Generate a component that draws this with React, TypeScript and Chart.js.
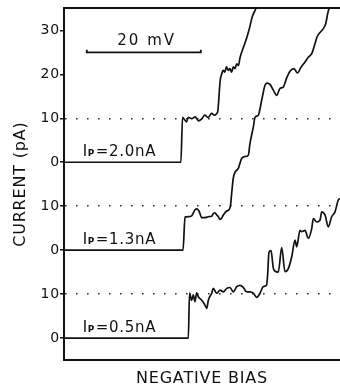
import React, { useEffect, useRef } from 'react';
import { Chart, registerables } from 'chart.js';

Chart.register(...registerables);

// Y axis: one stacked axis, three curves offset by 20 pA each
const Y_TICK_VALUES = [0, 10, 20, 30, 40, 50, 60, 70];
const Y_TICK_LABELS = ['0', '10', '0', '10', '0', '10', '20', '30'];
const DOTTED_LEVELS = [10, 30, 50];
const Y_MIN = -5;
const Y_MAX = 75;
const X_MIN = 0;
const X_MAX = 48.42; // mV

const CURVE_NAMES = ['2.0nA', '1.3nA', '0.5nA'];
const CURVE_OFFSETS = [40, 20, 0];
const LABEL_X = 3.3;
const LABEL_DY = 1.4;

// Ip = 2.0 nA
const BIAS_20 = [0, 20.5, 20.8, 21.5, 21.8, 22.4, 23.0, 23.6, 24.2, 24.7, 25.3, 25.9, 26.4, 26.8, 27.0, 27.4, 27.7, 27.9, 28.2, 28.5, 28.8, 29.1, 29.4, 29.7, 30.0, 30.3, 30.6, 30.9, 31.5, 32.1, 32.6, 33.0, 33.5, 33.8];
const CURRENT_20 = [0, 0, 10.2, 9.2, 10.2, 9.9, 10.3, 9.4, 9.9, 10.7, 10.2, 11.1, 10.7, 11.1, 11.8, 18.6, 20.2, 20.9, 20.5, 21.7, 20.9, 21.3, 20.5, 21.7, 21.3, 22.4, 22.0, 23.9, 26.2, 28.5, 30.8, 33.0, 34.5, 35.3];

// Ip = 1.3 nA
const BIAS_13 = [0, 20.88, 21.23, 21.81, 22.40, 22.98, 23.33, 23.68, 24.16, 24.74, 25.32, 25.91, 26.19, 26.49, 26.79, 27.07, 27.37, 27.67, 27.95, 28.54, 28.95, 29.21, 29.42, 29.70, 30.0, 30.58, 30.88, 31.18, 31.75, 32.33, 32.63, 33.21, 33.51, 34.09, 34.68, 35.26, 35.61, 36.14, 36.72, 37.32, 37.89, 38.47, 39.07, 39.65, 40.35, 40.96, 41.58, 42.28, 42.86, 43.46, 44.04, 44.39, 44.91, 45.49, 45.91, 46.26, 46.49, 46.6];
const CURRENT_13 = [0, 0, 7.5, 7.6, 7.8, 9.2, 9.4, 8.9, 7.4, 7.4, 7.6, 7.7, 8.3, 8.5, 8.0, 7.6, 7.0, 7.3, 8.0, 8.9, 9.2, 10.2, 13.0, 16.4, 17.7, 18.6, 19.8, 20.9, 21.3, 21.6, 24.3, 28.0, 30.2, 30.7, 34.1, 37.5, 38.0, 37.7, 36.4, 35.2, 36.8, 37.1, 39.2, 40.7, 41.3, 40.3, 41.6, 42.8, 43.9, 44.7, 47.0, 48.5, 49.5, 50.4, 51.5, 53.8, 54.9, 55.3];

// Ip = 0.5 nA
const BIAS_05 = [0, 21.81, 22.02, 22.40, 22.68, 22.98, 23.28, 23.56, 24.16, 24.74, 25.04, 25.32, 25.91, 26.19, 26.79, 27.37, 27.95, 28.54, 29.12, 29.70, 30.30, 30.88, 31.46, 32.05, 32.63, 33.21, 33.81, 34.39, 34.96, 35.53, 35.70, 35.96, 36.32, 36.72, 37.02, 37.60, 38.19, 38.77, 39.35, 39.95, 40.53, 40.82, 41.40, 41.70, 42.28, 42.86, 43.46, 43.74, 44.33, 44.91, 45.21, 45.79, 46.37, 46.96, 47.54, 48.12, 48.42];
const CURRENT_05 = [0, 0, 10.2, 8.6, 9.8, 8.3, 10.3, 9.4, 8.6, 7.5, 6.75, 8.6, 10.2, 11.3, 10.2, 10.9, 10.5, 11.3, 11.5, 10.5, 11.7, 12.0, 11.5, 10.5, 10.5, 10.2, 9.25, 10.2, 11.7, 12.0, 13.9, 19.5, 19.9, 15.9, 15.2, 15.0, 20.6, 15.1, 15.8, 18.5, 22.3, 20.75, 24.5, 24.2, 24.5, 22.7, 24.9, 27.2, 26.4, 26.8, 28.7, 28.0, 25.3, 27.6, 28.7, 31.4, 31.75];

const CURVE_BIAS = [BIAS_20, BIAS_13, BIAS_05];
const CURVE_CURRENT = [CURRENT_20, CURRENT_13, CURRENT_05];

// 20 mV scale bar (in axis units)
const SCALE_BAR_X = [4, 4, 24, 24];
const SCALE_BAR_Y = [65.6, 65, 65, 65.6];
const SCALE_BAR_LABEL = '20 mV';
const SCALE_LABEL_X = 14.5;
const SCALE_LABEL_Y = 66.6;

const INK = '#111';
const FONT = '"DejaVu Sans", sans-serif';

function zip(xs: number[], ys: number[], off: number) {
  const n = Math.min(xs.length, ys.length);
  const out: { x: number; y: number }[] = [];
  for (let i = 0; i < n; i++) out.push({ x: xs[i], y: ys[i] + off });
  return out;
}

const textPlugin = {
  id: 'textPlugin',
  beforeDraw(chart: any) {
    chart.ctx.letterSpacing = '0.8px';
  },
  afterDatasetsDraw(chart: any) {
    const ctx = chart.ctx;
    const xs = chart.scales.x;
    const ys = chart.scales.y;
    ctx.save();
    ctx.fillStyle = INK;
    ctx.textBaseline = 'alphabetic';
    ctx.textAlign = 'left';
    CURVE_NAMES.forEach((name, i) => {
      let px = xs.getPixelForValue(LABEL_X);
      const py = ys.getPixelForValue(CURVE_OFFSETS[i] + LABEL_DY);
      ctx.letterSpacing = '0px';
      ctx.font = `15px ${FONT}`;
      ctx.fillText('I', px, py);
      px += ctx.measureText('I').width + 0.5;
      ctx.font = `bold 9px ${FONT}`;
      ctx.fillText('P', px, py);
      px += ctx.measureText('P').width + 1.5;
      ctx.letterSpacing = '0.7px';
      ctx.font = `15px ${FONT}`;
      ctx.fillText('=' + name, px, py);
    });
    ctx.textAlign = 'center';
    ctx.letterSpacing = '2px';
    ctx.font = `15px ${FONT}`;
    ctx.fillText(SCALE_BAR_LABEL, xs.getPixelForValue(SCALE_LABEL_X), ys.getPixelForValue(SCALE_LABEL_Y));
    ctx.restore();
    ctx.letterSpacing = '2.5px';
  },
};

export default function App() {
  const ref = useRef<HTMLCanvasElement | null>(null);

  useEffect(() => {
    if (!ref.current) return;
    const datasets: any[] = CURVE_NAMES.map((name, i) => ({
      label: name,
      data: zip(CURVE_BIAS[i], CURVE_CURRENT[i], CURVE_OFFSETS[i]),
      borderColor: INK,
      borderWidth: 1.7,
      pointRadius: 0,
      fill: false,
      cubicInterpolationMode: 'monotone',
      tension: 0.3,
    }));
    datasets.push({
      label: 'scale',
      data: zip(SCALE_BAR_X, SCALE_BAR_Y, 0),
      borderColor: INK,
      borderWidth: 1.8,
      pointRadius: 0,
      fill: false,
      tension: 0,
    });

    const chart = new Chart(ref.current, {
      type: 'line',
      data: { datasets },
      plugins: [textPlugin],
      options: {
        animation: false,
        responsive: false,
        maintainAspectRatio: false,
        layout: { padding: 0 },
        plugins: { legend: { display: false }, tooltip: { enabled: false } },
        scales: {
          x: {
            type: 'linear',
            position: 'bottom',
            min: X_MIN,
            max: X_MAX,
            afterFit: (s: any) => { s.height = 30; },
            ticks: { display: false },
            grid: { display: false, drawTicks: false },
            border: { display: true, color: INK, width: 2 },
            title: {
              display: true,
              text: 'NEGATIVE BIAS',
              color: INK,
              font: { family: FONT, size: 16 },
              padding: { top: 0, bottom: 1.5 },
            },
          },
          x2: {
            type: 'linear',
            position: 'top',
            min: X_MIN,
            max: X_MAX,
            afterFit: (s: any) => { s.height = 8; },
            ticks: { display: false },
            grid: { display: false, drawTicks: false },
            border: { display: true, color: INK, width: 2 },
          },
          y: {
            type: 'linear',
            position: 'left',
            min: Y_MIN,
            max: Y_MAX,
            z: 1,
            afterFit: (s: any) => { s.width = 64; },
            afterBuildTicks: (s: any) => { s.ticks = Y_TICK_VALUES.map((v) => ({ value: v })); },
            ticks: {
              autoSkip: false,
              color: INK,
              padding: 0,
              font: { family: FONT, size: 14 },
              callback: (v: any) => {
                const i = Y_TICK_VALUES.indexOf(Number(v));
                return i >= 0 ? Y_TICK_LABELS[i] : '';
              },
            },
            grid: {
              drawOnChartArea: true,
              drawTicks: true,
              tickLength: 4,
              tickColor: INK,
              tickWidth: 1.5,
              tickBorderDash: [],
              lineWidth: 1.5,
              color: (c: any) => (c.tick && DOTTED_LEVELS.includes(c.tick.value) ? '#333' : 'rgba(0,0,0,0)'),
            },
            border: { display: true, color: INK, width: 2, dash: [1.6, 9.4], dashOffset: 0 },
            title: {
              display: true,
              text: 'CURRENT (pA)',
              color: INK,
              font: { family: FONT, size: 16 },
              padding: { top: 11, bottom: 0 },
            },
          },
        },
      } as any,
    });
    return () => chart.destroy();
  }, []);

  return (
    <div style={{ position: 'fixed', left: 0, top: 0, width: 340, height: 390, background: '#fff' }}>
      <canvas ref={ref} width={340} height={390} style={{ display: 'block', width: 340, height: 390 }} />
    </div>
  );
}
